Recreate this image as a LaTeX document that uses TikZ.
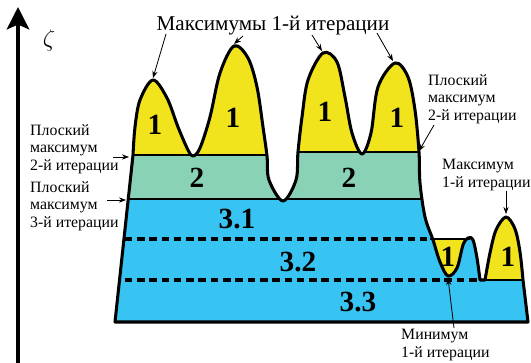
\documentclass[tikz,border=0pt]{standalone}
\usepackage{fontspec}
\setmainfont{Liberation Serif}
\usetikzlibrary{arrows.meta}
\definecolor{cPeak}{HTML}{F2E41C}
\definecolor{cFlat}{HTML}{8AD2B6}
\definecolor{cBase}{HTML}{38C4F2}
\newcommand{\groundpath}{(115,322) -- plot[smooth,tension=0.55] coordinates {
  (133,155) (135,127) (140,100) (153,80) (167,98) (178,127) (188,150) (193,156)
  (200,148) (210,117) (220,73) (234,46) (248,58) (257,87) (263,127) (267,156)
  (269,180) (283,201) (296,180) (298,152) (302,117) (308,80) (323,53) (337,62)
  (345,97) (352,133) (362,154) (371,133) (378,87) (395,63) (408,77) (415,110)
  (419,152) (420,183) (425,217) (433,240) (440,262) (448,276) (457,268)
  (463,245) (468,238) (473,240) (477,258) (480,280)}
  -- (485,280) -- plot[smooth,tension=0.55] coordinates {
  (485,280) (490,253) (496,230) (506,217) (515,229) (520,252) (523,280)}
  -- (528,322) -- cycle}
\newcommand{\bowlpath}{plot[smooth,tension=0.55] coordinates {
  (433,240) (440,262) (448,276) (457,268) (463,245) (468,239)} -- cycle}

\begin{document}
\begin{tikzpicture}[x=0.3mm,y=-0.3mm,
  rim/.style={line width=2.6pt,line join=round},
  level/.style={line width=2.4pt},
  cut/.style={line width=2.8pt,dash pattern=on 6.5pt off 4pt},
  note/.style={font=\fontsize{13.5}{15}\selectfont,align=left,inner sep=0pt},
  num/.style={font=\fontsize{25}{25}\selectfont\bfseries,inner sep=0pt},
  pointer/.style={-{Stealth[length=6pt,width=4.5pt]},line width=0.7pt},
  axis/.style={-{Stealth[length=19pt,width=19pt,inset=4pt]},line width=3.4pt}
]
\useasboundingbox (0,0) rectangle (531,363);

% surface and iteration layers
\fill[cBase] \groundpath;
\begin{scope}
  \clip \groundpath;
  \fill[cPeak] (100,0) rectangle (531,155);
  \fill[cFlat] (100,155) rectangle (283,199);
  \fill[cFlat] (283,152) rectangle (430,199);
  \fill[cPeak] (483,200) rectangle (531,280);
  \draw[level] (100,155) -- (283,155);
  \draw[level] (283,152) -- (430,152);
  \draw[level] (100,199) -- (430,199);
  \draw[level] (483,280) -- (531,280);
  \draw[cut] (100,239) -- (432,239);
  \draw[cut] (100,280) -- (481,280);
\end{scope}
\fill[cPeak] \bowlpath;
\draw[level] (430,239) -- (470,239);
\draw[rim] \groundpath;

% axis
\coordinate (zbot) at (18,363);
\coordinate (ztop) at (18,7);
\draw[axis] (zbot) -- (ztop);
\node[font=\fontsize{20}{20}\selectfont] (zeta) at (49,40) {$\zeta$};

% layer numbers
\node[num] (n1a) at (155,125) {1};
\node[num] (n1b) at (233,118) {1};
\node[num] (n1c) at (325,112) {1};
\node[num] (n1d) at (397,118) {1};
\node[num] (n1e) at (448,257) {1};
\node[num] (n1f) at (508,257) {1};
\node[num] (n2a) at (197,178) {2};
\node[num] (n2b) at (349,178) {2};
\node[num] (n31) at (237,219) {3.1};
\node[num] (n32) at (298,262) {3.2};
\node[num] (n33) at (358,302) {3.3};

% labels
\node[font=\fontsize{18}{18}\selectfont,anchor=base,inner sep=0pt] (maxA) at (273,31)
     {Максимумы 1-й итерации};
\node[note,anchor=north west] (flat2L) at (30,124) {Плоский\\максимум\\2-й итерации};
\node[note,anchor=north west] (flat3L) at (30,181) {Плоский\\максимум\\3-й итерации};
\node[note,anchor=north west] (flat2R) at (428,74) {Плоский\\максимум\\2-й итерации};
\node[note,anchor=north west] (max1R) at (442,159) {Максимум\\1-й итерации};
\node[note,anchor=north west] (min1) at (401,329) {Минимум\\1-й итерации};

% pointers
\coordinate (t1) at (166,34);  \coordinate (pk1) at (153,78);
\coordinate (t2) at (243,36);  \coordinate (pk2) at (234,44);
\coordinate (t3) at (312,35);  \coordinate (pk3) at (322,51);
\coordinate (t4) at (377,33);  \coordinate (pk4) at (393,61);
\coordinate (a2L) at (113,157); \coordinate (e2L) at (129,157);
\coordinate (a3L) at (107,200); \coordinate (e3L) at (126,200);
\coordinate (a2R) at (434,125); \coordinate (e2R) at (419,151);
\coordinate (a1R) at (506,191); \coordinate (e1R) at (506,214);
\coordinate (aMin) at (454,328); \coordinate (eMin) at (448,278);
\draw[pointer] (t1) -- (pk1);
\draw[pointer] (t2) -- (pk2);
\draw[pointer] (t3) -- (pk3);
\draw[pointer] (t4) -- (pk4);
\draw[pointer] (a2L) -- (e2L);
\draw[pointer] (a3L) -- (e3L);
\draw[pointer] (a2R) -- (e2R);
\draw[pointer] (a1R) -- (e1R);
\draw[pointer] (aMin) -- (eMin);
\end{tikzpicture}
\end{document}
